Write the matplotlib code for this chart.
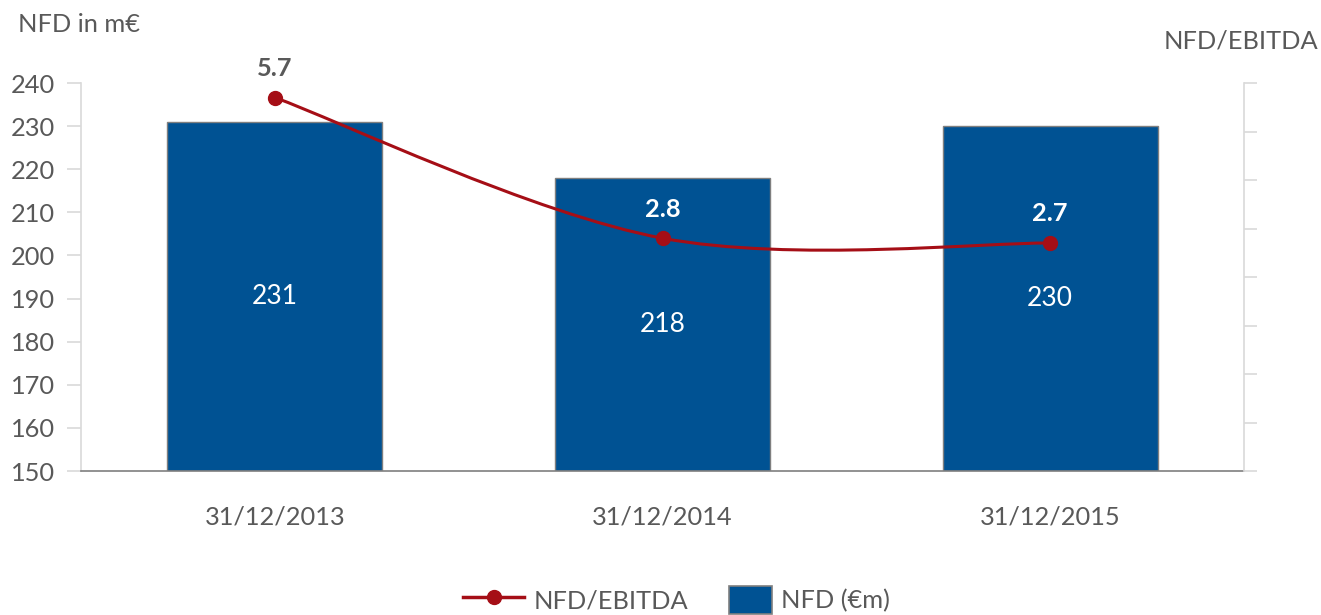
import matplotlib
matplotlib.use("Agg")
import matplotlib.pyplot as plt
from matplotlib.path import Path
from matplotlib.patches import PathPatch, Patch, Rectangle
from matplotlib.lines import Line2D
from matplotlib.legend_handler import HandlerPatch
import numpy as np

plt.rcParams['font.family'] = ['Lato', 'DejaVu Sans']

categories = ["31/12/2013", "31/12/2014", "31/12/2015"]
nfd = [231, 218, 230]
ratio = [5.7, 2.8, 2.7]
left_ticks = [150, 160, 170, 180, 190, 200, 210, 220, 230, 240]

BAR = "#005293"
RED = "#A50E16"
GREY = "#595959"
LIGHT = "#D9D9D9"
FS = 18.3

fig = plt.figure(figsize=(13.21, 6.15), dpi=100)
ax = fig.add_axes([81/1321, 1-471/615, (1244-81)/1321, (471-83)/615])
x = np.arange(len(categories))
ax.bar(x, [v - 150 for v in nfd], bottom=150, width=0.555, color=BAR,
       edgecolor="#7F7F7F", linewidth=1.0, zorder=2)
for xi, v in zip(x, nfd):
    ax.text(xi, (150 + v) / 2, f"{v}", ha="center", va="center", color="white", fontsize=19)

ax.set_xlim(-0.5, 2.5)
ax.set_ylim(150, 240)
ax.set_yticks(left_ticks)
ax.set_yticklabels([str(t) for t in left_ticks], color=GREY, fontsize=FS)
ax.set_xticks(x)
ax.set_xticklabels(categories, color=GREY, fontsize=FS)
ax.tick_params(axis="x", length=0, pad=25)
ax.tick_params(axis="y", length=10, color=LIGHT, width=1.2, pad=9)
ax.spines["top"].set_visible(False)
ax.spines["right"].set_visible(False)
ax.spines["left"].set_color(LIGHT)
ax.spines["left"].set_linewidth(1.2)
ax.spines["bottom"].set_color("#7F7F7F")
ax.spines["bottom"].set_linewidth(1.2)

ax2 = ax.twinx()
ax2.set_ylim(-2, 6)
ax2.set_yticks(range(-2, 7))
ax2.set_yticklabels([])
ax2.tick_params(axis="y", length=9, color=LIGHT, width=1.2)
for s in ["top", "left", "bottom"]:
    ax2.spines[s].set_visible(False)
ax2.spines["right"].set_color(LIGHT)
ax2.spines["right"].set_linewidth(1.2)

# smoothed line (Catmull-Rom style bezier through the data points)
pts = np.column_stack([x, ratio]).astype(float)
verts = [tuple(pts[0])]
codes = [Path.MOVETO]
n = len(pts)
for i in range(n - 1):
    p0 = pts[i - 1] if i > 0 else pts[i]
    p1 = pts[i]
    p2 = pts[i + 1]
    p3 = pts[i + 2] if i + 2 < n else pts[i + 1]
    c1 = p1 + (p2 - p0) / 6
    c2 = p2 - (p3 - p1) / 6
    verts += [tuple(c1), tuple(c2), tuple(p2)]
    codes += [Path.CURVE4] * 3
ax2.add_patch(PathPatch(Path(verts, codes), facecolor="none", edgecolor=RED, lw=2.2, zorder=3))
ax2.plot(x, ratio, linestyle="none", marker="o", markersize=10, color=RED, zorder=4)

label_colors = [GREY, "white", "white"]
for xi, r, c in zip(x, ratio, label_colors):
    ax2.annotate(f"{r:.1f}", (xi, r), xytext=(0, 21), textcoords="offset points",
                 ha="center", va="center", color=c, fontsize=FS, fontweight="bold")

fig.text(18/1321, 1-24/615, "NFD in m€", color=GREY, fontsize=FS, ha="left", va="center")
fig.text(1318/1321, 1-41/615, "NFD/EBITDA", color=GREY, fontsize=FS, ha="right", va="center")


def make_rect(legend, orig_handle, xdescent, ydescent, width, height, fontsize):
    w = width * 0.7
    return Rectangle((-xdescent + width - w, -ydescent), w, height)


handles = [Line2D([0], [0], color=RED, lw=2.5, marker="o", markersize=10),
           Patch(facecolor=BAR, edgecolor="#7F7F7F", linewidth=1.2)]
leg = fig.legend(handles, ["NFD/EBITDA", "NFD (€m)"], loc="center",
                 bbox_to_anchor=(0.5 + 16/1321, 1-600/615),
                 ncol=2, frameon=False, fontsize=FS, handlelength=2.4, handleheight=1.3,
                 columnspacing=0.9, handletextpad=0.35,
                 handler_map={Patch: HandlerPatch(patch_func=make_rect)})
for t in leg.get_texts():
    t.set_color(GREY)

fig.savefig("out.png", dpi=100)
